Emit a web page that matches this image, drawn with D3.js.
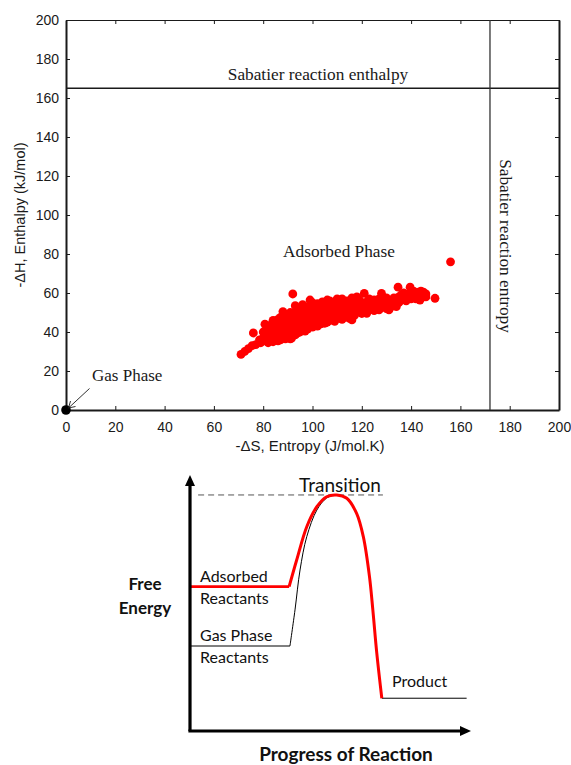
<!DOCTYPE html>
<html><head><meta charset="utf-8">
<script src="https://cdn.jsdelivr.net/npm/d3@7"></script>
<style>body{margin:0;background:#fff}svg{display:block}</style>
</head><body>
<svg id="c" width="571" height="765"></svg>
<script>
// ---------- Data ----------
const xTicks = [0,20,40,60,80,100,120,140,160,180,200];
const yTicks = [0,20,40,60,80,100,120,140,160,180,200];
const sabatierEnthalpy = 165;   // -ΔH (kJ/mol)
const sabatierEntropy = 172;    // -ΔS (J/mol.K)
const gasPhase = [[0,0]];
const adsorbedPoints = [
[71,28.5],[72.5,30],[74,31.5],[75.5,33],[76,39.5],[77,33.5],[78.5,36],[79,34.5],[80,37],[80,40],[80.7,44],[81,35.5],[81,38.5],
[82,34.5],[82,37],[82,40],[82,42],
[83,36],[83,38.5],[83,41],[83,43.5],
[84,35],[84,37.5],[84,40],[84,42.5],[84,46],
[85,36],[85,38],[85,41],[85,43],[85,45],
[86,35.5],[86,37.5],[86,39.5],[86,42],[86,44],[86,46.5],
[87,36],[87,38.5],[87,40.5],[87,43],[87,45],[87,47.5],
[88,37],[88,39],[88,41.5],[88,44],[88,46],[88,50.5],
[89,36.5],[89,38],[89,40],[89,42.5],[89,45],[89,47.5],[89,49],
[90,37],[90,39.5],[90,41.5],[90,44],[90,46],[90,48.5],
[91,36.5],[91,38],[91,40.5],[91,43],[91,45.5],[91,47],[91,50],
[91.5,36.8],
[92,39],[92,41.5],[92,44],[92,46.5],[92,48],[92,59.5],
[93,38.5],[93,40],[93,42.5],[93,45],[93,47.5],[93,50],[93,53.5],
[94,39.5],[94,41.5],[94,44],[94,46],[94,48.5],[94,51],
[95,40],[95,42.5],[95,45],[95,47],[95,49.5],[95,52],
[96,41],[96,43.5],[96,45.5],[96,48],[96,50.5],[96,54],
[97,40.5],[97,42],[97,44.5],[97,47],[97,49],[97,51.5],
[98,41.5],[98,43.5],[98,46],[98,48.5],[98,50],[98,53],
[99,42.7],[99,44.5],[99,47],[99,49.5],[99,51.5],[99,56.4],
[100,42.5],[100,45],[100,47.5],[100,50],[100,52.5],[100,55],
[101,43.5],[101,46],[101,48.5],[101,51],[101,53.5],
[102,43],[102,45],[102,47.5],[102,50],[102,52],[102,54.5],
[103,44],[103,46.5],[103,49],[103,51.5],[103,53.5],
[104,44.5],[104,47],[104,49.5],[104,52],[104,55.5],
[105,44.5],[105,46],[105,48.5],[105,50.5],[105,53],
[106,45],[106,47.5],[106,50],[106,52.5],[106,55],[106,56.4],
[107,46],[107,48.5],[107,51],[107,53.5],[107,56],
[108,46.5],[108,49],[108,51.5],[108,54],
[109,45.5],[109,47.5],[109,50],[109,52.5],[109,55.5],
[110,47],[110,49.5],[110,52],[110,54.5],[110,57],
[111,48],[111,50.5],[111,53],[111,55],
[112,46.5],[112,49],[112,51.5],[112,54],[112,57],
[113,47.5],[113,50],[113,52.5],[113,55.5],
[114,48.5],[114,51],[114,53.5],[114,56],
[115,47],[115,49.5],[115,52],[115,54.5],
[116,46.2],[116,50],[116,53],[116,55.5],[116,57.5],
[117,48.5],[117,51.5],[117,54],
[118,50],[118,52.5],[118,55],[118,58],
[119,51],[119,54],[119,56.5],
[120,49.5],[120,52],[120,55],
[121,51],[121,53.5],[121,59.8],
[122,49.6],[122,52.5],[122,55.5],
[123,51.5],[123,54],[123,57],
[124,53],[124,55.5],
[125,51],[125,54],[125,56.5],
[126,52.5],[126,55],
[127,51.3],[127,54],[127,57],
[128,52.7],[128,55.5],[128,59.8],
[129,54],[129,56.5],
[130,52],[130,55],[130,57.5],
[131,51.3],[131,54],
[132,53],[132,56],
[133,55],[133,57.5],
[134,53],[134,56.5],
[135,55],[135,58],[134.7,63],
[136,56.4],[136,59],
[137,57.5],[137,60],
[138,56],[138,58.5],
[139,59.5],[139.6,63],
[140,57],[140,60],
[141,58],[141,61],
[142,57],[142,59.5],
[143,60.5],[143.6,56.4],
[144,59],[144,61],
[145,58],[145,60.5],
[146,58],[146,59.5],
[149.7,57.3],[156,76]
];

// Energy diagram (progress 0-100, free energy 0-100, schematic units)
const adsorbedFlat = [[0,56.4],[35.4,56.4]];
const adsorbedCurve = [[35.4,56.4],[38.1,66.8],[41.7,79.8],[45.3,87.6],[48.8,91.5],[52.4,92.2],[56,90.9],[59.5,85],[61.9,75.9],[64.1,60.3],[65.3,47.3],[66.7,30.5],[68.5,12.8]];
const gasFlat = [[0,33.2],[35.7,33.2]];
const gasCurve = [[35.7,33.2],[37.5,47.3],[39.3,62.9],[41.7,75.9],[45.3,86.3],[48.8,91],[52.4,92.2],[56,90.9]];
const productLine = [[68.5,12.8],[98.8,12.8]];
const transitionLevel = [[2.9,92.2],[68.9,92.2]];

// ---------- Scatter ----------
const svg = d3.select("#c");
const x = d3.scaleLinear().domain([0,200]).range([66,559]);
const y = d3.scaleLinear().domain([0,200]).range([410,20]);
const g = svg.append("g");
const sans = "'Liberation Sans', Arial, sans-serif";
const serif = "'Liberation Serif', 'Times New Roman', serif";

// Axes (inward ticks on all four sides)
const axB = d3.axisBottom(x).tickValues(xTicks).tickSizeInner(-4).tickSizeOuter(0).tickPadding(8);
const axL = d3.axisLeft(y).tickValues(yTicks).tickSizeInner(-4).tickSizeOuter(0).tickPadding(7);
const axT = d3.axisTop(x).tickValues(xTicks).tickSizeInner(-4).tickSizeOuter(0).tickFormat("");
const axR = d3.axisRight(y).tickValues(yTicks).tickSizeInner(-4).tickSizeOuter(0).tickFormat("");
function styleAxis(sel, w){
  sel.select(".domain").attr("stroke","#1a1a1a").attr("stroke-width",w);
  sel.selectAll(".tick line").attr("stroke","#1a1a1a").attr("stroke-width",1);
  sel.selectAll(".tick text").attr("font-family",sans).attr("font-size",14).attr("fill","#1a1a1a");
}
g.append("g").attr("transform","translate(0,20)").call(axT).call(s=>styleAxis(s,1.2));
g.append("g").attr("transform","translate(559,0)").call(axR).call(s=>styleAxis(s,2));
const gB = g.append("g").attr("transform","translate(0,410)").call(axB).call(s=>styleAxis(s,2));
const gL = g.append("g").attr("transform","translate(66,0)").call(axL).call(s=>styleAxis(s,2));
gB.selectAll(".tick text").attr("y",12).attr("dy","0.71em");
gL.selectAll(".tick text").attr("dy","0.35em");

// Reference lines
g.append("line").attr("x1",x(0)).attr("x2",x(200)).attr("y1",y(sabatierEnthalpy)).attr("y2",y(sabatierEnthalpy))
  .attr("stroke","#1a1a1a").attr("stroke-width",1.3);
g.append("line").attr("x1",x(sabatierEntropy)).attr("x2",x(sabatierEntropy)).attr("y1",y(0)).attr("y2",y(200))
  .attr("stroke","#333").attr("stroke-width",1.3);

// Points
g.append("g").selectAll("circle").data(adsorbedPoints).join("circle")
  .attr("cx",d=>x(d[0])).attr("cy",d=>y(d[1])).attr("r",4.4).attr("fill","#ff0000");
g.append("g").selectAll("circle").data(gasPhase).join("circle")
  .attr("cx",d=>x(d[0])).attr("cy",d=>y(d[1])).attr("r",4.8).attr("fill","#000");

// Axis titles
g.append("text").attr("x",310).attr("y",451).attr("text-anchor","middle")
  .attr("font-family",sans).attr("font-size",15).attr("fill","#1a1a1a").text("-ΔS, Entropy (J/mol.K)");
g.append("text").attr("transform","translate(25,215) rotate(-90)").attr("text-anchor","middle")
  .attr("font-family",sans).attr("font-size",14.5).attr("fill","#1a1a1a").text("-ΔH, Enthalpy (kJ/mol)");

// Annotations
g.append("text").attr("x",318).attr("y",80).attr("text-anchor","middle")
  .attr("font-family",serif).attr("font-size",17.3).attr("fill","#1a1a1a").text("Sabatier reaction enthalpy");
g.append("text").attr("transform","translate(500,246) rotate(90)").attr("text-anchor","middle")
  .attr("font-family",serif).attr("font-size",17.3).attr("fill","#1a1a1a").text("Sabatier reaction entropy");
g.append("text").attr("x",339).attr("y",257).attr("text-anchor","middle")
  .attr("font-family",serif).attr("font-size",17.3).attr("fill","#1a1a1a").text("Adsorbed Phase");
g.append("text").attr("x",92).attr("y",381)
  .attr("font-family",serif).attr("font-size",17).attr("fill","#1a1a1a").text("Gas Phase");
// arrow to gas phase point
const ax0 = 89.5, ay0 = 388.5, ax1 = x(0)+2.5, ay1 = y(0)-2;
g.append("line").attr("x1",ax0).attr("y1",ay0).attr("x2",ax1).attr("y2",ay1).attr("stroke","#1a1a1a").attr("stroke-width",0.9);
g.append("path").attr("d",`M${ax1+7},${ay1-1.5} L${ax1},${ay1} L${ax1+2},${ay1-7}`)
  .attr("fill","none").attr("stroke","#1a1a1a").attr("stroke-width",0.9);

// ---------- Energy diagram ----------
const px = d3.scaleLinear().domain([0,100]).range([190,470]);
const py = d3.scaleLinear().domain([0,100]).range([731,475]);
const lin = d3.line().x(d=>px(d[0])).y(d=>py(d[1]));
const smooth = d3.line().x(d=>px(d[0])).y(d=>py(d[1])).curve(d3.curveCatmullRom.alpha(0.5));
const dg = svg.append("g");
const dfont = "Lato, 'Open Sans', sans-serif";

dg.append("path").attr("d",lin(transitionLevel)).attr("stroke","#555").attr("stroke-width",1).attr("stroke-dasharray","6,4").attr("fill","none");
dg.append("path").attr("d",lin(gasFlat)).attr("stroke","#000").attr("stroke-width",1).attr("fill","none");
dg.append("path").attr("d",smooth(gasCurve)).attr("stroke","#000").attr("stroke-width",1).attr("fill","none");
dg.append("path").attr("d",lin(productLine)).attr("stroke","#000").attr("stroke-width",1).attr("fill","none");
dg.append("path").attr("d",lin(adsorbedFlat)).attr("stroke","#ff0000").attr("stroke-width",2.6).attr("fill","none");
dg.append("path").attr("d",smooth(adsorbedCurve)).attr("stroke","#ff0000").attr("stroke-width",3).attr("fill","none").attr("stroke-linejoin","round");

dg.append("line").attr("x1",px(0)).attr("y1",py(0)).attr("x2",px(0)).attr("y2",py(100)+10).attr("stroke","#000").attr("stroke-width",3.2);
dg.append("line").attr("x1",px(0)-1.6).attr("y1",py(0)).attr("x2",px(100)-8).attr("y2",py(0)).attr("stroke","#000").attr("stroke-width",3.2);
dg.append("path").attr("d",`M${px(0)-5},${py(100)+11} L${px(0)},${py(100)} L${px(0)+5},${py(100)+11} Z`).attr("fill","#000");
dg.append("path").attr("d",`M${px(100)-10},${py(0)-5} L${px(100)+1},${py(0)} L${px(100)-10},${py(0)+5} Z`).attr("fill","#000");

const lab = (t,xx,yy,opt={}) => dg.append("text").attr("x",xx).attr("y",yy).attr("font-family",dfont)
  .attr("font-size",opt.size||16).attr("font-weight",opt.weight||400).attr("text-anchor",opt.anchor||"start").attr("fill","#111").text(t);
lab("Transition",340,492,{size:19,anchor:"middle"});
lab("Adsorbed",200,582);
lab("Reactants",200,604);
lab("Gas Phase",200,641);
lab("Reactants",200,663);
lab("Product",392,687);
lab("Free",145,590,{size:17,weight:700,anchor:"middle"});
lab("Energy",145,614,{size:17,weight:700,anchor:"middle"});
lab("Progress of Reaction",346,761,{size:19,weight:700,anchor:"middle"});
</script>
</body></html>
